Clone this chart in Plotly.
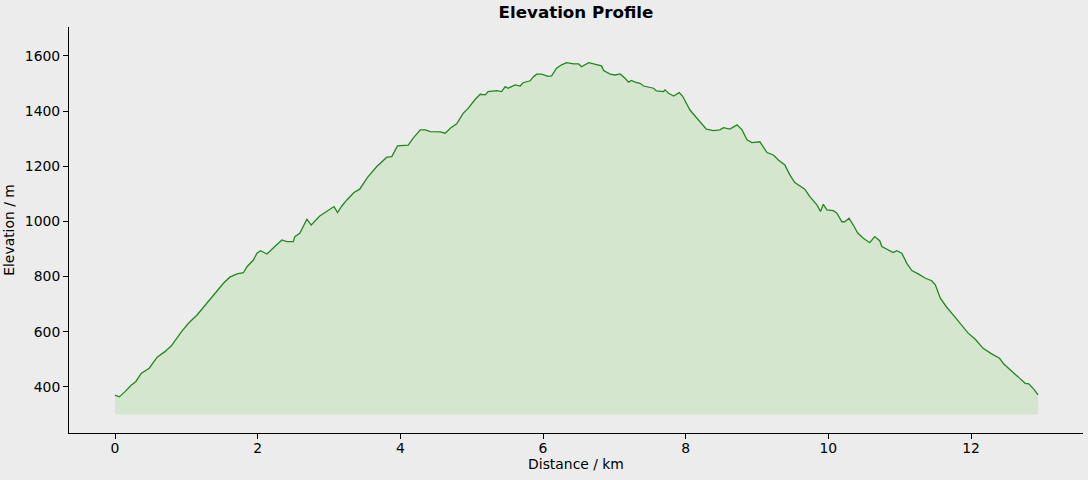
import plotly.graph_objects as go

distance_km = [0.00, 0.06, 0.14, 0.23, 0.29, 0.37, 0.48, 0.59, 0.70, 0.79, 0.93, 1.03, 1.15, 1.26, 1.36,
               1.52, 1.61, 1.71, 1.80, 1.85, 1.94, 1.99, 2.04, 2.13, 2.24, 2.34, 2.41, 2.50, 2.52, 2.59,
               2.69, 2.75, 2.87, 2.97, 3.07, 3.12, 3.18, 3.25, 3.35, 3.43, 3.54, 3.67, 3.74, 3.81, 3.88,
               3.96, 4.11, 4.18, 4.28, 4.35, 4.42, 4.56, 4.63, 4.70, 4.79, 4.88, 4.95, 5.05, 5.12, 5.19,
               5.23, 5.35, 5.42, 5.47, 5.51, 5.61, 5.68, 5.72, 5.82, 5.86, 5.91, 5.98, 6.07, 6.12, 6.19,
               6.26, 6.33, 6.43, 6.50, 6.54, 6.64, 6.75, 6.82, 6.85, 6.94, 7.01, 7.08, 7.15, 7.20, 7.24,
               7.29, 7.36, 7.41, 7.55, 7.59, 7.69, 7.71, 7.76, 7.83, 7.91, 7.96, 8.06, 8.18, 8.29, 8.39,
               8.48, 8.53, 8.62, 8.72, 8.79, 8.86, 8.93, 9.04, 9.09, 9.14, 9.23, 9.30, 9.39, 9.46, 9.53,
               9.61, 9.67, 9.74, 9.84, 9.89, 9.93, 9.98, 10.07, 10.12, 10.19, 10.23, 10.29, 10.35, 10.41,
               10.49, 10.58, 10.65, 10.72, 10.75, 10.84, 10.91, 10.96, 11.03, 11.10, 11.17, 11.26, 11.36,
               11.45, 11.50, 11.57, 11.66, 11.75, 11.85, 11.96, 12.06, 12.17, 12.29, 12.40, 12.46, 12.57,
               12.68, 12.76, 12.81, 12.88, 12.94]

elevation_m = [370, 364, 383, 407, 419, 450, 468, 508, 528, 549, 600, 631, 661, 695, 725,
               776, 798, 810, 814, 836, 860, 885, 894, 882, 909, 933, 927, 927, 945, 957,
               1008, 987, 1020, 1036, 1054, 1032, 1056, 1078, 1105, 1117, 1160, 1199, 1217, 1233, 1235,
               1274, 1277, 1302, 1332, 1332, 1326, 1325, 1320, 1338, 1354, 1392, 1410, 1443, 1461, 1459,
               1471, 1474, 1471, 1489, 1483, 1495, 1491, 1503, 1510, 1523, 1534, 1534, 1526, 1528, 1556,
               1568, 1576, 1571, 1571, 1561, 1576, 1570, 1564, 1547, 1534, 1531, 1535, 1519, 1505, 1511,
               1505, 1501, 1491, 1483, 1473, 1471, 1477, 1465, 1455, 1467, 1453, 1404, 1368, 1335, 1329,
               1332, 1340, 1335, 1350, 1332, 1296, 1286, 1289, 1269, 1250, 1241, 1223, 1205, 1169, 1141,
               1129, 1117, 1090, 1060, 1036, 1062, 1042, 1039, 1030, 999, 999, 1012, 987, 959,
               939, 923, 945, 930, 909, 897, 887, 894, 885, 848, 822, 810, 794,
               785, 770, 722, 689, 661, 631, 595, 573, 540, 520, 504, 483, 459,
               432, 413, 411, 392, 371]

baseline_m = 300
x_ticks = [0, 2, 4, 6, 8, 10, 12]
y_ticks = [400, 600, 800, 1000, 1200, 1400, 1600]

BG = "rgb(236,236,236)"
FONT = "DejaVu Sans"

fig = go.Figure()
fig.add_trace(go.Scatter(
    x=distance_km, y=[baseline_m] * len(distance_km), mode="lines",
    line=dict(width=0, color="rgba(0,0,0,0)"), hoverinfo="skip", showlegend=False))
fig.add_trace(go.Scatter(
    x=distance_km, y=elevation_m, mode="lines", fill="tonexty",
    fillcolor="rgb(212,231,206)",
    line=dict(color="rgb(34,135,30)", width=1.3), showlegend=False))

axis_common = dict(
    showline=True, linecolor="black", linewidth=1, mirror=False,
    ticks="outside", ticklen=5, tickwidth=1, tickcolor="black",
    showgrid=False, zeroline=False,
    tickfont=dict(family=FONT, size=13.9, color="black"),
)

fig.update_layout(
    width=1088, height=480,
    paper_bgcolor=BG, plot_bgcolor=BG,
    margin=dict(l=69, r=5, t=27, b=47, autoexpand=False),
    title=dict(text="<b>Elevation Profile</b>", x=0.5294,
               xanchor="center", y=1 - 12 / 480, yanchor="middle",
               font=dict(family=FONT, size=16.7, color="black")),
    xaxis=dict(range=[-0.645, 13.57], tickvals=x_ticks, ticklabelstandoff=-3,
               title=dict(text="Distance / km", font=dict(family=FONT, size=13.9, color="black"), standoff=4),
               **axis_common),
    yaxis=dict(range=[233, 1705], tickvals=y_ticks,
               title=dict(text="Elevation / m", font=dict(family=FONT, size=13.9, color="black"), standoff=6),
               **axis_common),
)

fig.write_html("out.html", config={"displayModeBar": False},
               post_script="document.body.style.margin='0';document.body.style.background='rgb(236,236,236)';")
